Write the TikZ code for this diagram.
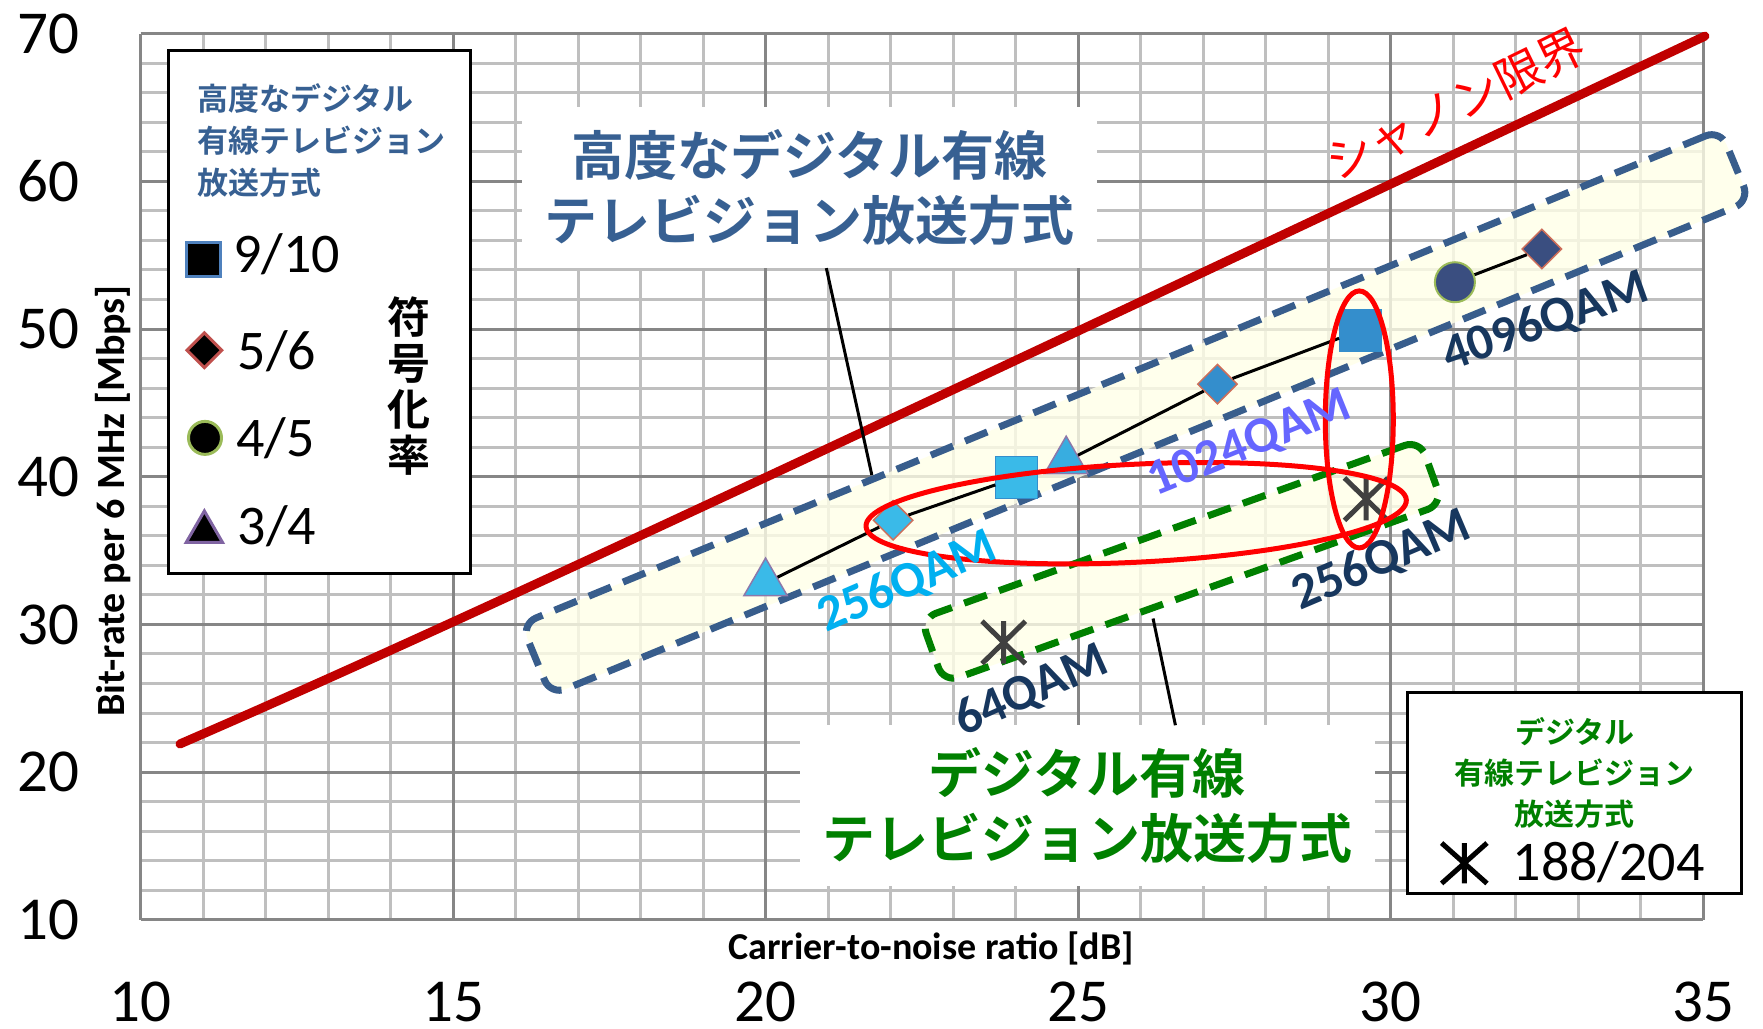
\documentclass[tikz,border=0pt]{standalone}
\usepackage{fontspec}
\setmainfont{Carlito}
\newfontfamily\jpfont{Noto Sans CJK JP}[BoldFont={Noto Sans CJK JP Bold}]
\usetikzlibrary{shapes.geometric}
\definecolor{gridlight}{RGB}{191,191,191}
\definecolor{griddark}{RGB}{134,134,134}
\definecolor{shannonred}{RGB}{192,0,0}
\definecolor{advblue}{RGB}{56,93,140}
\definecolor{titleblue}{RGB}{55,96,146}
\definecolor{cablegreen}{RGB}{0,128,0}
\definecolor{bandfill}{RGB}{255,255,232}
\definecolor{qamcyan}{RGB}{0,176,240}
\definecolor{qamviolet}{RGB}{102,102,255}
\definecolor{qamnavy}{RGB}{23,55,94}
\definecolor{mkcyan}{RGB}{58,186,232}
\definecolor{mkblue}{RGB}{52,142,204}
\definecolor{mknavy}{RGB}{58,78,128}
\definecolor{mkpurple}{RGB}{140,120,170}
\definecolor{mksalmon}{RGB}{205,110,90}
\definecolor{mkgreen}{RGB}{155,187,89}
\definecolor{lgblue}{RGB}{79,129,189}
\definecolor{lgred}{RGB}{192,80,77}
\definecolor{lgpurple}{RGB}{128,100,162}

\begin{document}
\begin{tikzpicture}[x=62.5pt,y=14.77pt,
  grid minor/.style={gridlight,line width=3pt},
  grid major/.style={griddark,line width=3pt},
  label box/.style={fill=white,inner sep=0pt,minimum width=575pt,minimum height=161pt,
    align=center,font=\jpfont\bfseries\fontsize{53}{65}\selectfont},
  legend box/.style={draw=black,fill=white,line width=3pt,inner sep=0pt},
  legend txt/.style={anchor=base west,inner sep=0pt,font=\fontsize{56}{67}\selectfont},
  band/.style={fill=bandfill,fill opacity=0.8,line width=7pt,dash pattern=on 24pt off 13pt,
    rounded corners=16pt,inner sep=0pt},
  ring/.style={ellipse,draw=red,line width=5pt,inner sep=0pt},
  qam/.style={inner sep=0pt,font=\bfseries\fontsize{51}{61}\selectfont},
  tick/.style={inner sep=0pt,font=\fontsize{61}{73}\selectfont},
  mark sq/.style={rectangle,minimum size=42pt,inner sep=0pt,line width=1pt},
  mark dm/.style={diamond,minimum size=40pt,inner sep=0pt,line width=1.5pt},
  mark tr/.style={regular polygon,regular polygon sides=3,minimum size=50pt,inner sep=0pt,line width=1.5pt},
  mark ci/.style={circle,minimum size=40pt,inner sep=0pt,line width=2pt},
  mark ast/.style={minimum width=43pt,minimum height=42pt,inner sep=0pt},
  ast line/.style={line width=5pt,black!75},
  data line/.style={black,line width=3pt},
  leader/.style={black,line width=3pt}]

  \useasboundingbox[fill=white] (7.75,2.62) rectangle (35.96,72.28);

  \foreach \x in {10,...,35} \draw[grid minor] (\x,10) -- (\x,70);
  \foreach \y in {10,12,...,70} \draw[grid minor] (10,\y) -- (35,\y);
  \foreach \x in {10,15,...,35} \draw[grid major] (\x,10) -- (\x,70);
  \foreach \y in {10,20,...,70} \draw[grid major] (10,\y) -- (35,\y);

  \foreach \v in {10,20,...,70} \node[tick] (ytick\v) at (8.53,\v) {\v};
  \foreach \v in {10,15,...,35} \node[tick] (xtick\v) at (\v,4.41) {\v};
  \node[rotate=90,font=\bfseries\fontsize{40}{48}\selectfont] (ylab) at (9.56,38.36) {Bit-rate per 6 MHz [Mbps]};
  \node[font=\bfseries\fontsize{38}{46}\selectfont] (xlab) at (22.65,8.03) {Carrier-to-noise ratio [dB]};

  \node[label box,text=titleblue] (advlbl) at (20.70,59.59) {高度なデジタル有線\\テレビジョン放送方式};
  \node[label box,text=cablegreen] (cablelbl) at (25.15,17.71) {デジタル有線\\テレビジョン放送方式};

  \node[legend box,minimum width=302pt,minimum height=523pt] (lgadv) at (12.87,51.13) {};
  \node[anchor=west,align=left,inner sep=0pt,text=titleblue,
    font=\jpfont\bfseries\fontsize{31}{42}\selectfont] (lgadvtitle) at (10.90,62.74) {高度なデジタル\\有線テレビジョン\\放送方式};
  \node[mark sq,minimum size=34pt,fill=black,draw=lgblue,line width=3pt] (lgsq) at (11.0,54.71) {};
  \node[mark dm,minimum size=36pt,fill=black,draw=lgred,line width=3pt] (lgdm) at (11.02,48.57) {};
  \node[mark ci,minimum size=33pt,fill=black,draw=mkgreen,line width=3pt] (lgci) at (11.03,42.63) {};
  \node[mark tr,minimum size=42pt,fill=black,draw=lgpurple,line width=3pt] (lgtr) at (11.02,36.26) {};
  \node[legend txt] (lgsqtxt) at (11.48,53.8) {9/10};
  \node[legend txt] (lgdmtxt) at (11.55,47.23) {5/6};
  \node[legend txt] (lgcitxt) at (11.53,41.34) {4/5};
  \node[legend txt] (lgtrtxt) at (11.55,35.38) {3/4};
  \node[align=center,inner sep=0pt,font=\jpfont\bfseries\fontsize{43}{46}\selectfont] (lgrate) at (14.30,46.11) {符\\号\\化\\率};

  \node[legend box,minimum width=334pt,minimum height=201pt] (lgcab) at (32.95,18.56) {};
  \node[align=center,inner sep=0pt,text=cablegreen,
    font=\jpfont\bfseries\fontsize{30}{41}\selectfont] (lgcabtitle) at (32.95,19.95) {デジタル\\有線テレビジョン\\放送方式};
  \node[mark ast,minimum width=45pt,minimum height=40pt] (lgast) at (31.18,13.83) {};
  \node[legend txt] (lgasttxt) at (31.95,12.63) {188/204};

  \draw[shannonred,line width=9pt,line cap=round] plot[domain=10.63:35.03,samples=60] (\x,{6*ln(1+10^(\x/10))/ln(2)});

  \node[band,draw=advblue,minimum width=1297pt,minimum height=77pt,rotate=22.4] (advband) at (25.92,44.35) {};
  \node[band,draw=cablegreen,minimum width=530pt,minimum height=68pt,rotate=19.7] (cabband) at (26.66,34.27) {};

  \coordinate (advtip) at (21.70,40.12);
  \coordinate (cabtip) at (26.20,30.40);
  \draw[leader] ([xshift=17pt]advlbl.south) -- (advtip);
  \draw[leader] ([xshift=88pt]cablelbl.north) -- (cabtip);

  \node[mark tr,fill=mkcyan,draw=mkpurple] (t1) at (20.0,32.8) {};
  \node[mark dm,fill=mkcyan,draw=mksalmon] (d1) at (22.04,37.05) {};
  \node[mark sq,fill=mkcyan,draw=mkblue] (s1) at (24.02,39.95) {};
  \node[mark tr,fill=mkcyan!70!mkblue,draw=mkpurple] (t2) at (24.81,41.05) {};
  \node[mark dm,fill=mkblue,draw=mksalmon] (d2) at (27.23,46.27) {};
  \node[mark sq,fill=mkblue,draw=mkblue] (s2) at (29.52,49.92) {};
  \node[mark ci,fill=mknavy,draw=mkgreen] (c1) at (31.03,53.17) {};
  \node[mark dm,fill=mknavy,draw=mksalmon] (d3) at (32.42,55.42) {};

  \path[data line]
   (t1) edge (d1)
   (d1) edge (s1)
   (t2) edge (d2)
   (d2) edge (s2)
   (c1) edge (d3);

  \node[mark ast] (a1) at (23.81,28.78) {};
  \node[mark ast] (a2) at (29.61,38.48) {};
  \foreach \m in {a1,a2}
    \draw[ast line] (\m.north) -- (\m.south) (\m.north west) -- (\m.south east) (\m.north east) -- (\m.south west);
  \draw[ast line,black] (lgast.north) -- (lgast.south) (lgast.north west) -- (lgast.south east) (lgast.north east) -- (lgast.south west);

  \node[ring,minimum width=541pt,minimum height=98pt,rotate=2.8] (ring256) at (25.93,37.53) {};
  \node[ring,minimum width=68pt,minimum height=257pt] (ring1024) at (29.50,43.88) {};

  \node[qam,text=qamcyan,rotate=23.5] (q256a) at (22.27,32.84) {256QAM};
  \node[qam,text=qamviolet,rotate=22] (q1024) at (27.75,42.22) {1024QAM};
  \node[qam,text=qamnavy,rotate=19.5] (q4096) at (32.48,50.45) {4096QAM};
  \node[qam,text=qamnavy,rotate=23] (q256b) at (29.86,34.33) {256QAM};
  \node[qam,text=qamnavy,rotate=24] (q64) at (24.26,25.5) {64QAM};

  \node[text=red,rotate=26,inner sep=0pt,font=\jpfont\fontsize{47}{54}\selectfont] (shlbl) at (31.04,65.17) {シャノン限界};
\end{tikzpicture}
\end{document}
